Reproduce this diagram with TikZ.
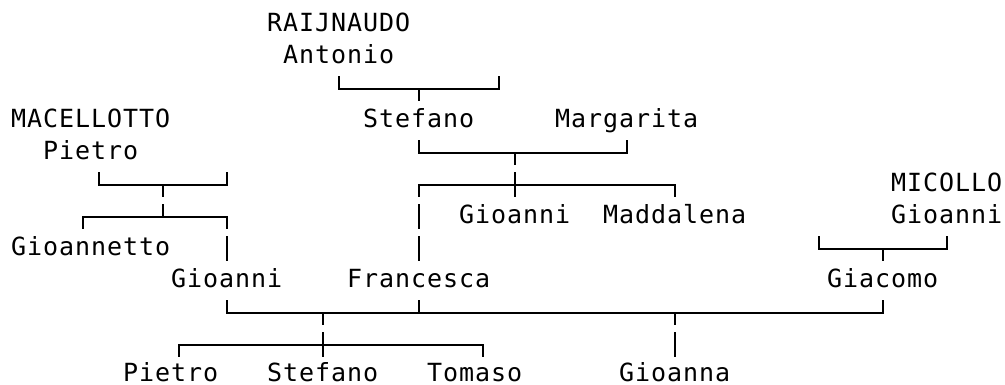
\documentclass[tikz,border=0pt]{standalone}
\usepackage{fontspec}
\usepackage{tikz}
\newfontfamily\treefont[LetterSpace=3.8]{DejaVu Sans Mono}

\begin{document}
\begin{tikzpicture}[x=8pt, y=-16pt, font=\treefont\fontsize{12.5}{14}\selectfont]
    \tikzstyle{person}=[anchor=base west, inner sep=0pt, text height=11.5pt, text depth=4.5pt]
    \tikzstyle{hline}=[line width=1pt, line cap=rect]
    \tikzstyle{vline}=[line width=1.1pt, dash pattern=on 12.5pt off 3.5pt, dash phase=6.25pt]
    \useasboundingbox (-0.669,-0.99) rectangle (62.14,11.04);

    \node[person] (raij) at (16,0) {RAIJNAUDO};
    \node[person] (antonio) at (17,1) {Antonio};
    \node[person] (macel) at (0,3) {MACELLOTTO};
    \node[person] (stefR) at (22,3) {Stefano};
    \node[person] (marg) at (34,3) {Margarita};
    \node[person] (pietroM) at (2,4) {Pietro};
    \node[person] (micollo) at (55,5) {MICOLLO};
    \node[person] (gioR) at (28,6) {Gioanni};
    \node[person] (madd) at (37,6) {Maddalena};
    \node[person] (gioMi) at (55,6) {Gioanni};
    \node[person] (gnetto) at (0,7) {Gioannetto};
    \node[person] (gioM) at (10,8) {Gioanni};
    \node[person] (franc) at (21,8) {Francesca};
    \node[person] (giac) at (51,8) {Giacomo};
    \node[person, text depth=0pt] (pietro) at (7,10.92) {Pietro};
    \node[person, text depth=0pt] (stef) at (16,10.92) {Stefano};
    \node[person, text depth=0pt] (tomaso) at (26,10.92) {Tomaso};
    \node[person, text depth=0pt] (gioanna) at (38,10.92) {Gioanna};

    \coordinate (antL) at (20.5,1.78);
    \coordinate (antM) at (25.5,1.78);
    \coordinate (antR) at (30.5,1.78);
    \coordinate (smL) at (25.5,3.78);
    \coordinate (smM) at (31.5,3.78);
    \coordinate (smR) at (38.5,3.78);
    \coordinate (smcL) at (25.5,4.78);
    \coordinate (smcM) at (31.5,4.78);
    \coordinate (smcR) at (41.5,4.78);
    \coordinate (maL) at (5.5,4.78);
    \coordinate (maM) at (9.5,4.78);
    \coordinate (maR) at (13.5,4.78);
    \coordinate (macL) at (4.5,5.78);
    \coordinate (macM) at (9.5,5.78);
    \coordinate (macR) at (13.5,5.78);
    \coordinate (miL) at (50.5,6.78);
    \coordinate (miM) at (54.5,6.78);
    \coordinate (miR) at (58.5,6.78);
    \coordinate (gfL) at (13.5,8.78);
    \coordinate (gfM) at (19.5,8.78);
    \coordinate (gfF) at (25.5,8.78);
    \coordinate (ggM) at (41.5,8.78);
    \coordinate (ggR) at (54.5,8.78);
    \coordinate (chL) at (10.5,9.78);
    \coordinate (chM) at (19.5,9.78);
    \coordinate (chR) at (29.5,9.78);

    \draw[hline] (antL) -- (antR);
    \draw[hline] (smL) -- (smR);
    \draw[hline] (smcL) -- (smcR);
    \draw[hline] (maL) -- (maR);
    \draw[hline] (macL) -- (macR);
    \draw[hline] (miL) -- (miR);
    \draw[hline] (gfL) -- (ggR);
    \draw[hline] (chL) -- (chR);

    \draw[vline] (antL) -- (antL |- antonio.south);
    \draw[vline] (antR) -- (antR |- antonio.south);
    \draw[vline] (antM) -- (antM |- stefR.north);
    \draw[vline] (smL) -- (smL |- stefR.south);
    \draw[vline] (smR) -- (smR |- marg.south);
    \draw[vline] (smM) -- (smcM);
    \draw[vline] (smcL) -- (smcL |- franc.north);
    \draw[vline] (smcM) -- (smcM |- gioR.north);
    \draw[vline] (smcR) -- (smcR |- madd.north);
    \draw[vline] (maL) -- (maL |- pietroM.south);
    \draw[vline] (maR) -- (maR |- pietroM.south);
    \draw[vline] (maM) -- (macM);
    \draw[vline] (macL) -- (macL |- gnetto.north);
    \draw[vline] (macR) -- (macR |- gioM.north);
    \draw[vline] (miL) -- (miL |- gioMi.south);
    \draw[vline] (miR) -- (miR |- gioMi.south);
    \draw[vline] (miM) -- (miM |- giac.north);
    \draw[vline] (gfL) -- (gfL |- gioM.south);
    \draw[vline] (gfF) -- (gfF |- franc.south);
    \draw[vline] (ggR) -- (ggR |- giac.south);
    \draw[vline] (gfM) -- (chM);
    \draw[vline] (ggM) -- (ggM |- gioanna.north);
    \draw[vline] (chL) -- (chL |- pietro.north);
    \draw[vline] (chM) -- (chM |- stef.north);
    \draw[vline] (chR) -- (chR |- tomaso.north);
  \end{tikzpicture}
\end{document}
